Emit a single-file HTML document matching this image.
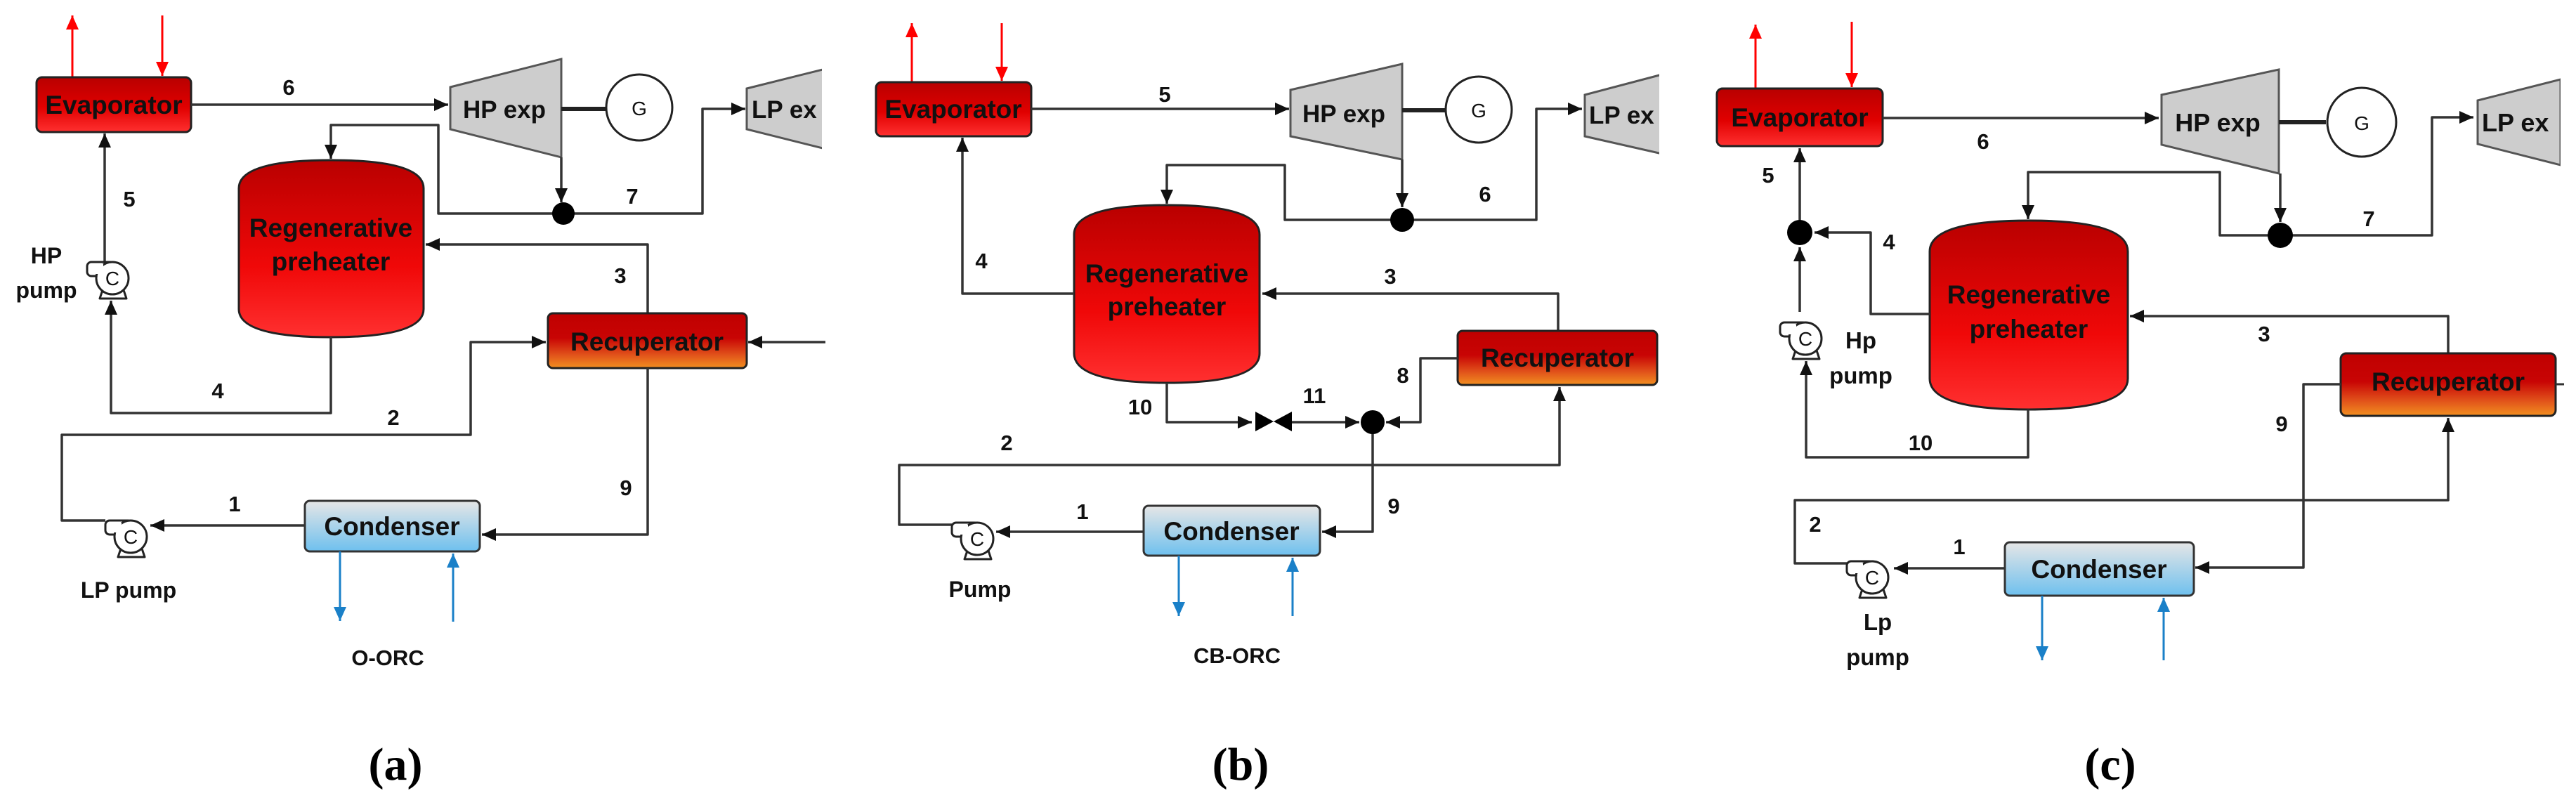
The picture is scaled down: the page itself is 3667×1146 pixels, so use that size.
<!DOCTYPE html>
<html><head><meta charset="utf-8"><style>
html,body{margin:0;padding:0;background:#fff;}
svg{display:block;}
text{font-family:"Liberation Sans",Arial,sans-serif;font-weight:bold;fill:#111;}
.ln{fill:none;stroke:#333;stroke-width:3.5;stroke-linejoin:round;}
.lab{font-size:31px;text-anchor:middle;}
.box{font-size:37px;text-anchor:middle;}
.cap{font-family:"Liberation Serif",serif;font-size:66px;text-anchor:middle;fill:#000;}
.exp{fill:#cdcdcd;stroke:#555;stroke-width:3;}
.pump{fill:#fff;stroke:#222;stroke-width:3;stroke-linejoin:round;}
.ct{font-family:"Liberation Sans",sans-serif;font-weight:normal;font-size:28px;text-anchor:middle;}
</style></head><body>
<svg width="3667" height="1146" viewBox="0 0 3667 1146" xmlns="http://www.w3.org/2000/svg">
<defs>
<marker id="a" markerUnits="userSpaceOnUse" markerWidth="22" markerHeight="18" refX="20" refY="9" orient="auto"><path d="M0,0 L20,9 L0,18 Z" fill="#111"/></marker>
<marker id="r" markerUnits="userSpaceOnUse" markerWidth="22" markerHeight="18" refX="20" refY="9" orient="auto"><path d="M0,0 L20,9 L0,18 Z" fill="#f00"/></marker>
<marker id="b" markerUnits="userSpaceOnUse" markerWidth="22" markerHeight="18" refX="20" refY="9" orient="auto"><path d="M0,0 L20,9 L0,18 Z" fill="#1a80c8"/></marker>
<linearGradient id="gr" x1="0" y1="0" x2="0" y2="1"><stop offset="0" stop-color="#b80000"/><stop offset="0.55" stop-color="#e00000"/><stop offset="1" stop-color="#ff3030"/></linearGradient>
<linearGradient id="gc" x1="0" y1="0" x2="0" y2="1"><stop offset="0" stop-color="#b90000"/><stop offset="0.6" stop-color="#f00808"/><stop offset="1" stop-color="#ff3030"/></linearGradient>
<linearGradient id="gu" x1="0" y1="0" x2="0" y2="1"><stop offset="0" stop-color="#c00000"/><stop offset="0.45" stop-color="#c80404"/><stop offset="0.75" stop-color="#e0501a"/><stop offset="1" stop-color="#f29020"/></linearGradient>
<linearGradient id="gb" x1="0" y1="0" x2="0" y2="1"><stop offset="0" stop-color="#e6e6e6"/><stop offset="1" stop-color="#6ec0ee"/></linearGradient>
<g id="pp">
<path class="pump" d="M-14,17 L-18,29 L20,29 L16,17 Z"/>
<rect class="pump" x="-36" y="-23" width="38" height="20" rx="6"/>
<circle class="pump" cx="0" cy="0" r="23"/>
<rect x="-33" y="-20" width="20" height="14" fill="#fff"/>
</g>
</defs>

<!-- ================= PANEL A ================= -->
<g>
<line x1="103" y1="110" x2="103" y2="22" stroke="#f00" stroke-width="3" marker-end="url(#r)"/>
<line x1="231" y1="22" x2="231" y2="108" stroke="#f00" stroke-width="3" marker-end="url(#r)"/>
<rect x="52" y="110" width="220" height="78" rx="8" fill="url(#gr)" stroke="#222" stroke-width="3"/>
<text class="box" x="162" y="162">Evaporator</text>
<polyline class="ln" points="272,149 638,149" marker-end="url(#a)"/>
<text class="lab" x="411" y="135">6</text>
<polygon class="exp" points="641,124 799,84 799,224 641,184"/>
<text class="box" x="718" y="168" style="font-size:35px">HP exp</text>
<line x1="799" y1="155" x2="862" y2="155" stroke="#222" stroke-width="6"/>
<circle cx="910" cy="153" r="47" fill="#fff" stroke="#222" stroke-width="3"/>
<text class="ct" x="910" y="164">G</text>
<polygon class="exp" points="1063,126 1175,98 1175,212 1063,184"/>
<text class="box" x="1070" y="168" style="font-size:35px;text-anchor:start">LP ex</text>
<rect x="1170" y="80" width="30" height="150" fill="#fff"/>
<polyline class="ln" points="799,224 799,288" marker-end="url(#a)"/>
<polyline class="ln" points="802,304 624,304 624,178 471,178 471,226" marker-end="url(#a)"/>
<polyline class="ln" points="802,304 1000,304 1000,155 1061,155" marker-end="url(#a)"/>
<circle cx="802" cy="304" r="16" fill="#000"/>
<text class="lab" x="900" y="290">7</text>
<path d="M340,268 Q340,228 471,228 Q603,228 603,268 L603,440 Q603,480 471,480 Q340,480 340,440 Z" fill="url(#gc)" stroke="#222" stroke-width="3"/>
<text class="box" x="471" y="337">Regenerative</text>
<text class="box" x="471" y="385">preheater</text>
<polyline class="ln" points="922,446 922,348 606,348" marker-end="url(#a)"/>
<text class="lab" x="883" y="403">3</text>
<rect x="780" y="446" width="283" height="78" rx="7" fill="url(#gu)" stroke="#222" stroke-width="3"/>
<text class="box" x="921" y="499">Recuperator</text>
<polyline class="ln" points="1175,487 1065,487" marker-end="url(#a)"/>
<polyline class="ln" points="471,480 471,588 158,588 158,428" marker-end="url(#a)"/>
<text class="lab" x="310" y="567">4</text>
<polyline class="ln" points="149,373 149,190" marker-end="url(#a)"/>
<use href="#pp" transform="translate(160,396)"/>
<text class="ct" x="160" y="406">C</text>
<text class="box" x="66" y="375" style="font-size:32px">HP</text>
<text class="box" x="66" y="424" style="font-size:32px">pump</text>
<text class="lab" x="184" y="294">5</text>
<polyline class="ln" points="150,741 88,741 88,619 670,619 670,487 777,487" marker-end="url(#a)"/>
<text class="lab" x="560" y="605">2</text>
<polyline class="ln" points="434,748 214,748" marker-end="url(#a)"/>
<use href="#pp" transform="translate(186,764)"/>
<text class="ct" x="186" y="774">C</text>
<text class="box" x="183" y="851" style="font-size:32px">LP pump</text>
<rect x="434" y="713" width="249" height="72" rx="7" fill="url(#gb)" stroke="#333" stroke-width="3"/>
<text class="box" x="558" y="762">Condenser</text>
<text class="lab" x="334" y="728">1</text>
<polyline class="ln" points="922,524 922,761 686,761" marker-end="url(#a)"/>
<text class="lab" x="891" y="705">9</text>
<line x1="484" y1="785" x2="484" y2="884" stroke="#1a80c8" stroke-width="3" marker-end="url(#b)"/>
<line x1="645" y1="885" x2="645" y2="788" stroke="#1a80c8" stroke-width="3" marker-end="url(#b)"/>
<text class="box" x="552" y="947" style="font-size:31px">O-ORC</text>
<text class="cap" x="563" y="1110">(<tspan font-weight="bold">a</tspan>)</text>
</g>

<!-- ================= PANEL B ================= -->
<g>
<line x1="1298" y1="117" x2="1298" y2="33" stroke="#f00" stroke-width="3" marker-end="url(#r)"/>
<line x1="1426" y1="33" x2="1426" y2="115" stroke="#f00" stroke-width="3" marker-end="url(#r)"/>
<rect x="1247" y="117" width="221" height="77" rx="8" fill="url(#gr)" stroke="#222" stroke-width="3"/>
<text class="box" x="1357" y="168">Evaporator</text>
<polyline class="ln" points="1468,155 1835,155" marker-end="url(#a)"/>
<text class="lab" x="1658" y="145">5</text>
<polygon class="exp" points="1837,128 1996,91 1996,227 1837,194"/>
<text class="box" x="1913" y="174" style="font-size:35px">HP exp</text>
<line x1="1996" y1="157" x2="2057" y2="157" stroke="#222" stroke-width="6"/>
<circle cx="2105" cy="156" r="47" fill="#fff" stroke="#222" stroke-width="3"/>
<text class="ct" x="2105" y="167">G</text>
<polygon class="exp" points="2256,135 2366,106 2366,219 2256,194"/>
<text class="box" x="2262" y="176" style="font-size:35px;text-anchor:start">LP ex</text>
<rect x="2362" y="90" width="30" height="140" fill="#fff"/>
<polyline class="ln" points="1996,227 1996,295" marker-end="url(#a)"/>
<polyline class="ln" points="1996,313 1829,313 1829,235 1661,235 1661,290" marker-end="url(#a)"/>
<polyline class="ln" points="1996,313 2187,313 2187,155 2252,155" marker-end="url(#a)"/>
<circle cx="1996" cy="313" r="17" fill="#000"/>
<text class="lab" x="2114" y="287">6</text>
<path d="M1529,334 Q1529,292 1661,292 Q1793,292 1793,334 L1793,503 Q1793,545 1661,545 Q1529,545 1529,503 Z" fill="url(#gc)" stroke="#222" stroke-width="3"/>
<text class="box" x="1661" y="402">Regenerative</text>
<text class="box" x="1661" y="449">preheater</text>
<polyline class="ln" points="1529,418 1370,418 1370,196" marker-end="url(#a)"/>
<text class="lab" x="1397" y="382">4</text>
<polyline class="ln" points="2218,471 2218,418 1797,418" marker-end="url(#a)"/>
<text class="lab" x="1979" y="404">3</text>
<rect x="2075" y="471" width="284" height="77" rx="7" fill="url(#gu)" stroke="#222" stroke-width="3"/>
<text class="box" x="2217" y="522">Recuperator</text>
<polyline class="ln" points="2075,510 2022,510 2022,601 1973,601" marker-end="url(#a)"/>
<text class="lab" x="1997" y="545">8</text>
<polyline class="ln" points="1661,545 1661,601 1782,601" marker-end="url(#a)"/>
<text class="lab" x="1623" y="590">10</text>
<path d="M1787,586 L1839,614 L1839,586 L1787,614 Z" fill="#000"/>
<polyline class="ln" points="1839,601 1935,601" marker-end="url(#a)"/>
<text class="lab" x="1871" y="574">11</text>
<polyline class="ln" points="1954,601 1954,757 1882,757" marker-end="url(#a)"/>
<circle cx="1954" cy="601" r="17" fill="#000"/>
<text class="lab" x="1984" y="731">9</text>
<rect x="1628" y="720" width="251" height="71" rx="7" fill="url(#gb)" stroke="#333" stroke-width="3"/>
<text class="box" x="1753" y="769">Condenser</text>
<polyline class="ln" points="1355,747 1280,747 1280,662 2220,662 2220,551" marker-end="url(#a)"/>
<text class="lab" x="1433" y="641">2</text>
<polyline class="ln" points="1628,757 1418,757" marker-end="url(#a)"/>
<use href="#pp" transform="translate(1391,767)"/>
<text class="ct" x="1391" y="777">C</text>
<text class="lab" x="1541" y="739">1</text>
<text class="box" x="1395" y="850" style="font-size:32px">Pump</text>
<line x1="1678" y1="791" x2="1678" y2="877" stroke="#1a80c8" stroke-width="3" marker-end="url(#b)"/>
<line x1="1840" y1="877" x2="1840" y2="794" stroke="#1a80c8" stroke-width="3" marker-end="url(#b)"/>
<text class="box" x="1761" y="944" style="font-size:31px">CB-ORC</text>
<text class="cap" x="1766" y="1110">(<tspan font-weight="bold">b</tspan>)</text>
</g>

<!-- ================= PANEL C ================= -->
<g>
<line x1="2499" y1="126" x2="2499" y2="35" stroke="#f00" stroke-width="3" marker-end="url(#r)"/>
<line x1="2636" y1="31" x2="2636" y2="124" stroke="#f00" stroke-width="3" marker-end="url(#r)"/>
<rect x="2444" y="126" width="236" height="82" rx="8" fill="url(#gr)" stroke="#222" stroke-width="3"/>
<text class="box" x="2562" y="180">Evaporator</text>
<polyline class="ln" points="2680,168 3073,168" marker-end="url(#a)"/>
<text class="lab" x="2823" y="212">6</text>
<polygon class="exp" points="3077,135 3244,99 3244,247 3077,206"/>
<text class="box" x="3157" y="187" style="font-size:36px">HP exp</text>
<line x1="3244" y1="174" x2="3311" y2="174" stroke="#222" stroke-width="6"/>
<circle cx="3362" cy="174" r="49" fill="#fff" stroke="#222" stroke-width="3"/>
<text class="ct" x="3362" y="185">G</text>
<polygon class="exp" points="3527,143 3645,113 3645,235 3527,205"/>
<text class="box" x="3533" y="187" style="font-size:36px;text-anchor:start">LP ex</text>
<rect x="3645" y="95" width="22" height="150" fill="#fff"/>
<polyline class="ln" points="3246,247 3246,316" marker-end="url(#a)"/>
<polyline class="ln" points="3246,335 3160,335 3160,245 2887,245 2887,312" marker-end="url(#a)"/>
<polyline class="ln" points="3246,335 3462,335 3462,167 3521,167" marker-end="url(#a)"/>
<circle cx="3246" cy="335" r="18" fill="#000"/>
<text class="lab" x="3372" y="322">7</text>
<path d="M2747,358 Q2747,314 2888,314 Q3029,314 3029,358 L3029,539 Q3029,583 2888,583 Q2747,583 2747,539 Z" fill="url(#gc)" stroke="#222" stroke-width="3"/>
<text class="box" x="2888" y="432">Regenerative</text>
<text class="box" x="2888" y="481">preheater</text>
<polyline class="ln" points="2747,447 2663,447 2663,331 2583,331" marker-end="url(#a)"/>
<text class="lab" x="2689" y="355">4</text>
<polyline class="ln" points="2562,331 2562,211" marker-end="url(#a)"/>
<polyline class="ln" points="2562,444 2562,352" marker-end="url(#a)"/>
<circle cx="2562" cy="331" r="18" fill="#000"/>
<text class="lab" x="2517" y="260">5</text>
<polyline class="ln" points="2887,583 2887,651 2571,651 2571,514" marker-end="url(#a)"/>
<use href="#pp" transform="translate(2570,482)"/>
<text class="ct" x="2570" y="492">C</text>
<text class="box" x="2649" y="496" style="font-size:33px">Hp</text>
<text class="box" x="2649" y="546" style="font-size:33px">pump</text>
<text class="lab" x="2734" y="641">10</text>
<polyline class="ln" points="3485,503 3485,450 3032,450" marker-end="url(#a)"/>
<text class="lab" x="3223" y="486">3</text>
<rect x="3332" y="503" width="306" height="89" rx="8" fill="url(#gu)" stroke="#222" stroke-width="3"/>
<text class="box" x="3485" y="556">Recuperator</text>
<line x1="3638" y1="547" x2="3650" y2="547" stroke="#333" stroke-width="3"/>
<polyline class="ln" points="3332,547 3279,547 3279,808 3125,808" marker-end="url(#a)"/>
<text class="lab" x="3248" y="614">9</text>
<polyline class="ln" points="2630,802 2555,802 2555,712 3485,712 3485,595" marker-end="url(#a)"/>
<text class="lab" x="2584" y="757">2</text>
<polyline class="ln" points="2854,809 2696,809" marker-end="url(#a)"/>
<use href="#pp" transform="translate(2665,822)"/>
<text class="ct" x="2665" y="832">C</text>
<text class="box" x="2673" y="897" style="font-size:33px">Lp</text>
<text class="box" x="2673" y="947" style="font-size:33px">pump</text>
<rect x="2854" y="772" width="269" height="76" rx="7" fill="url(#gb)" stroke="#333" stroke-width="3"/>
<text class="box" x="2988" y="823">Condenser</text>
<text class="lab" x="2789" y="789">1</text>
<line x1="2907" y1="848" x2="2907" y2="940" stroke="#1a80c8" stroke-width="3" marker-end="url(#b)"/>
<line x1="3080" y1="940" x2="3080" y2="851" stroke="#1a80c8" stroke-width="3" marker-end="url(#b)"/>
<text class="cap" x="3004" y="1110">(<tspan font-weight="bold">c</tspan>)</text>
</g>
</svg>
</body></html>
